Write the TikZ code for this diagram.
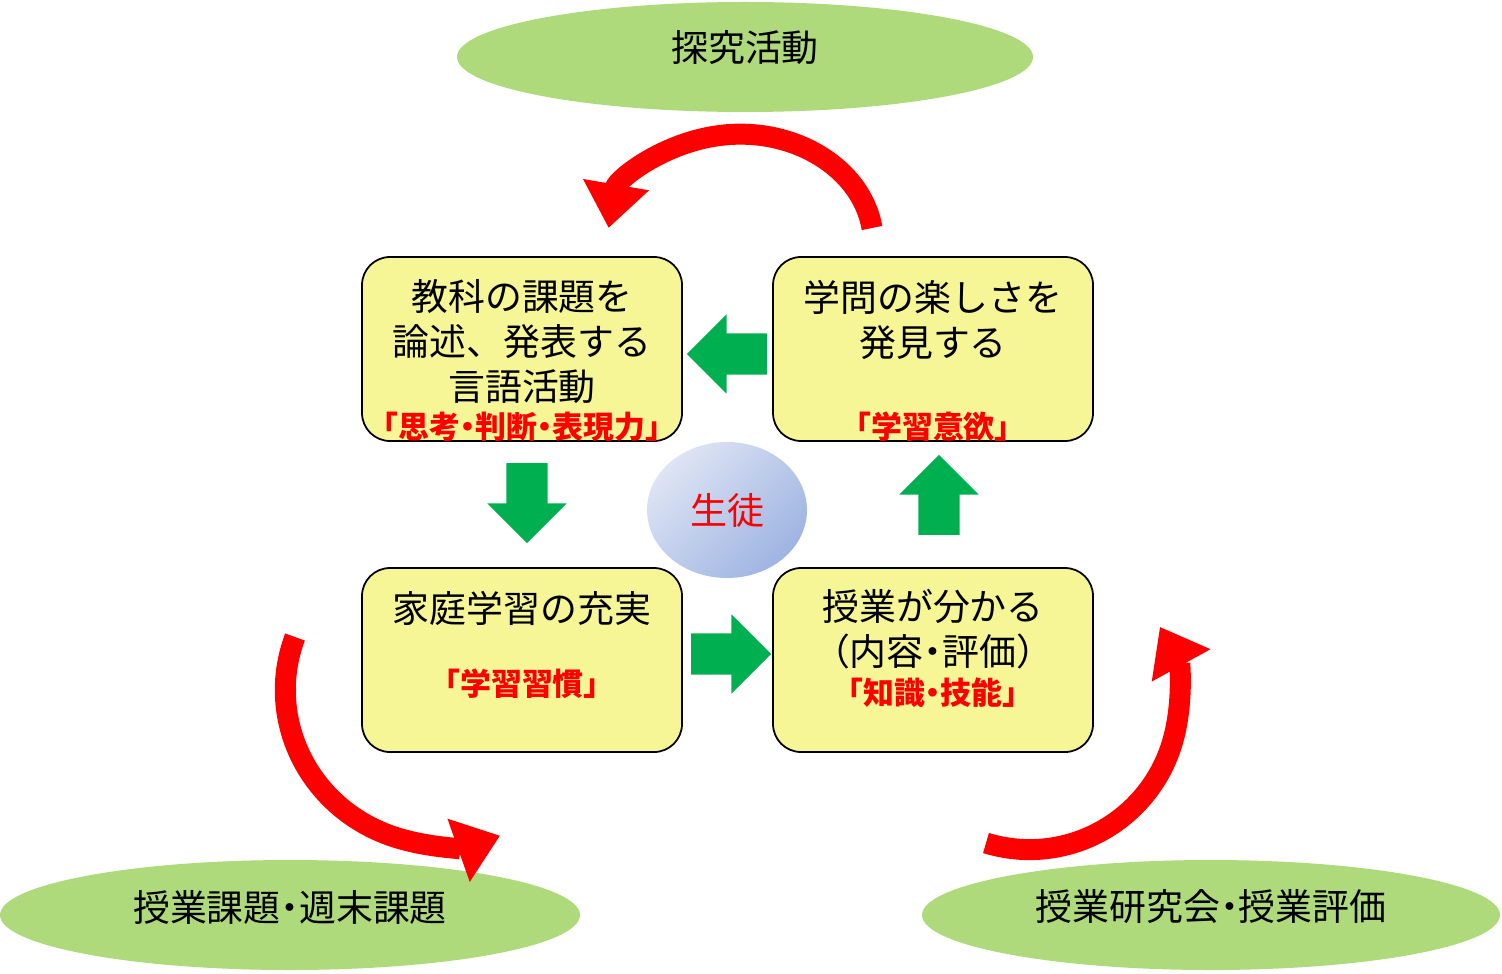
\documentclass[tikz,border=0pt]{standalone}
\usepackage{fontspec}
\setmainfont{Noto Sans CJK JP}
\newfontfamily\paltfont[RawFeature=+palt]{Noto Sans CJK JP}
\usepackage{tikz}
\usetikzlibrary{calc,positioning,shapes.geometric,shapes.arrows,arrows.meta}

\definecolor{leafgreen}{RGB}{174,218,124}
\definecolor{boxyellow}{RGB}{246,246,150}
\definecolor{arrowgreen}{RGB}{0,176,80}
\definecolor{studlight}{RGB}{222,228,244}
\definecolor{studdark}{RGB}{158,180,226}

\newcommand{\mainsize}{\fontsize{10.5pt}{12.8pt}\selectfont}
\newcommand{\notesize}{\fontsize{8.8pt}{10pt}\selectfont\paltfont\bfseries}
\newcommand{\nakaten}{{\paltfont ・}}

\tikzset{
  field/.style={ellipse, fill=leafgreen, minimum width=5.76cm, minimum height=1.1cm},
  stage/.style={draw=black, line width=0.5pt, fill=boxyellow, rounded corners=0.28cm,
    minimum width=3.2cm, minimum height=1.84cm},
  maintext/.style={align=center, font=\mainsize, inner sep=0pt},
  notetext/.style={text=red, font=\notesize, inner sep=0pt},
  flow/.style={single arrow, fill=arrowgreen, inner xsep=0pt, inner ysep=0.2cm,
    minimum height=0.8cm, single arrow head extend=0.19cm, anchor=tip},
  loopline/.style={draw=red, line width=0.21cm, -{Triangle[length=0.44cm, width=0.64cm]}}
}

\begin{document}
\begin{tikzpicture}
    \useasboundingbox (0,0) rectangle (15.02,-9.73);

    \node[field] (inquiry) at (7.45,-0.57) {};
    \node[field, minimum width=5.8cm] (homework) at (2.90,-9.15) {};
    \node[field, minimum width=5.78cm] (lessonstudy) at (12.11,-9.15) {};
    \node[maintext] (inquirytext) at ([yshift=0.09cm]inquiry.center) {探究活動};
    \node[maintext] (homeworktext) at ([yshift=0.08cm]homework.center) {授業課題\nakaten 週末課題};
    \node[maintext] (lessonstudytext) at ([yshift=0.08cm]lessonstudy.center) {授業研究会\nakaten 授業評価};

    \node[stage] (express) at (5.22,-3.49) {};
    \node[stage] (discover) at (9.33,-3.49) {};
    \node[stage] (homestudy) at (5.22,-6.60) {};
    \node[stage] (understand) at (9.33,-6.60) {};

    \node[maintext] (expresstext) at ([yshift=0.07cm]express.center) {教科の課題を\\論述、発表する\\言語活動};
    \node[notetext] (expressnote) at ([yshift=-0.78cm]express.center) {「思考・判断・表現力」};
    \node[maintext] (discovertext) at ([yshift=0.29cm]discover.center) {学問の楽しさを\\発見する};
    \node[notetext] (discovernote) at ([yshift=-0.78cm]discover.center) {「学習意欲」};
    \node[maintext] (homestudytext) at ([yshift=0.52cm]homestudy.center) {家庭学習の充実};
    \node[notetext] (homestudynote) at ([yshift=-0.24cm]homestudy.center) {「学習習慣」};
    \node[maintext] (understandtext) at ([yshift=0.305cm]understand.center) {授業が分かる\\（内容\nakaten 評価）};
    \node[notetext] (understandnote) at ([yshift=-0.33cm]understand.center) {「知識・技能」};

    \node[ellipse, minimum width=1.6cm, minimum height=1.36cm, top color=studlight,
      bottom color=studdark, shading angle=45, text=red, font=\mainsize] (student) at (7.27,-5.10) {生徒};

    \node[flow, rotate=180] (toexpress) at ([xshift=0.03cm, yshift=-0.05cm]express.east) {};
    \node[flow, rotate=270] (tohome) at ([xshift=0.05cm, yshift=0.23cm]homestudy.north) {};
    \node[flow] (tounderstand) at ([yshift=0.06cm]understand.west) {};
    \node[flow, rotate=90] (todiscover) at ([xshift=0.06cm, yshift=-0.12cm]discover.south) {};

    \coordinate (topfrom) at (8.72,-2.28);
    \coordinate (leftfrom) at (2.95,-6.37);
    \coordinate (rightfrom) at (9.86,-8.43);
    \draw[loopline] (topfrom) arc[start angle=8, end angle=172, x radius=1.33cm, y radius=1.09cm];
    \draw[loopline] (leftfrom) arc[start angle=160, end angle=290, x radius=1.6cm, y radius=1.55cm];
    \draw[loopline] (rightfrom) arc[start angle=-107, end angle=29, x radius=1.49cm, y radius=1.5cm];

\end{tikzpicture}
\end{document}
